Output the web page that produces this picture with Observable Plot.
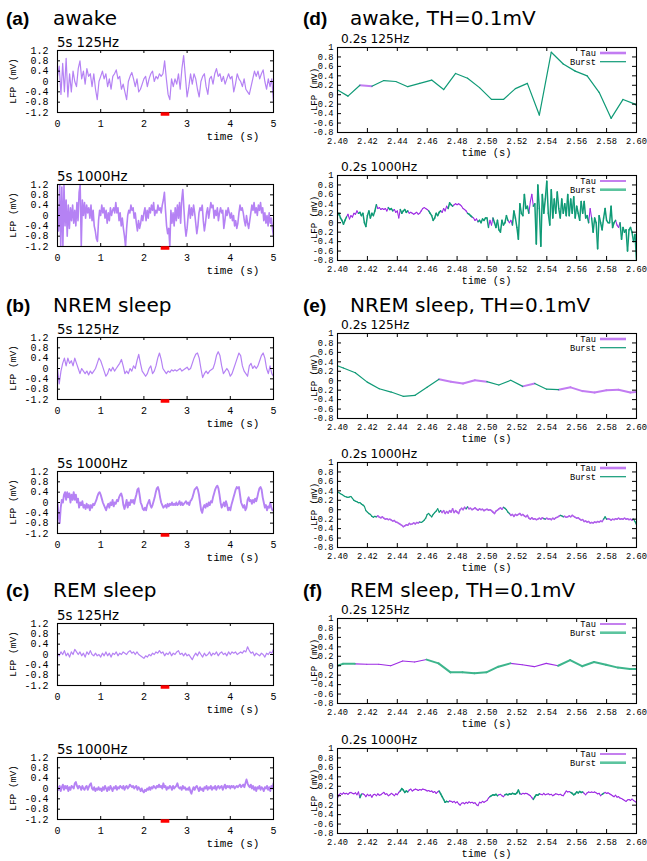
<!DOCTYPE html>
<html><head><meta charset="utf-8">
<script src="https://cdn.jsdelivr.net/npm/d3@7"></script>
<script src="https://cdn.jsdelivr.net/npm/@observablehq/plot@0.6"></script>
<style>
body{margin:0;background:#fff}
#root{position:relative;width:647px;height:861px;overflow:hidden;background:#fff}
.pn{position:absolute}
#ov{position:absolute;left:0;top:0;pointer-events:none}
</style></head><body><div id="root"></div>
<script>
// ---------- tick labels ----------
const leftXTicks = [0, 1, 2, 3, 4, 5];
const leftYTicks = [-1.2, -0.8, -0.4, 0, 0.4, 0.8, 1.2];
const rightXTicks = [2.40, 2.42, 2.44, 2.46, 2.48, 2.50, 2.52, 2.54, 2.56, 2.58, 2.60];
const rightYTicks = [-0.8, -0.6, -0.4, -0.2, 0, 0.2, 0.4, 0.6, 0.8, 1];
const zoomWindow = [2.4, 2.6];

// ---------- 5 s traces (mV), evenly sampled over 0..5 s ----------
const awake125 = [0.2,0.6,-0.5,0.7,-0.4,0.9,-0.6,0.3,-0.4,0.4, 0.0,-0.2,0.5,0.8,0.1,0.4,-0.1,0.5,0.2,0.3, -0.2,0.3,-0.3,-0.7,0.0,0.2,0.4,0.1,0.3,-0.2, 0.1,-0.3,0.2,0.3,0.45,0.1,0.2,-0.3,-0.1,-0.4, -0.7,0.0,0.2,0.35,0.1,-0.2,0.1,-0.4,-0.3,-0.1, 0.1,0.2,-0.2,0.1,0.3,0.4,0.0,0.2,0.1,0.3, 0.2,0.3,0.8,0.1,-0.5,-0.7,0.1,-0.2,0.1,-0.1, 0.3,-0.3,0.5,1.0,0.2,-0.6,-0.2,0.3,-0.1,0.3, 0.1,-0.3,-0.6,0.0,0.2,0.3,-0.2,-0.5,0.1,0.2, -0.1,0.3,0.5,0.2,0.3,0.0,0.2,-0.1,0.1,0.3, 0.1,0.2,-0.4,-0.1,0.3,0.1,0.0,-0.2,0.1,-0.3, -0.4,-0.5,-0.2,0.1,0.4,0.2,0.4,0.1,0.3,0.45, 0.0,-0.3,0.1,-0.2,0.1,-0.8];
const awake1000 = [0.3,-0.6,1.2,-1.2,1.1,-1.2,1.2,-0.4,0.6,-0.8, 0.4,-0.5,0.3,-0.2,0.4,-0.3,0.2,-0.4,0.5,-0.2, 0.9,1.2,-1.2,0.6,0.0,0.5,-0.1,0.4,0.1,0.3, -0.1,0.4,-0.2,0.2,-0.4,-0.6,-0.9,-1.0,-0.2,0.2, 0.0,0.4,0.1,0.3,-0.1,0.2,-0.3,0.1,-0.2,0.3, 0.0,0.2,0.3,0.1,0.5,0.1,0.3,-0.2,0.1,-0.4, -0.1,-0.5,-0.8,-1.2,-0.5,0.0,0.2,0.1,0.4,0.2, 0.3,-0.1,0.1,-0.3,-0.6,-0.2,-0.5,-0.3,0.0,-0.2, 0.1,0.3,-0.2,0.2,-0.1,0.3,0.1,0.4,0.2,0.5, 0.0,0.2,0.1,0.4,0.2,0.3,0.1,0.4,0.6,0.9, 0.2,-0.4,-0.7,-0.5,-1.2,0.2,-0.3,0.1,-0.4,0.3, -0.2,0.4,-0.1,0.5,-0.3,0.6,1.0,0.3,-0.4,-0.8, -0.5,0.0,0.4,-0.1,0.3,0.0,0.4,0.1,-0.3,-0.7, -0.4,0.1,0.3,0.2,0.4,-0.2,-0.6,-0.3,0.1,0.3, -0.1,0.2,0.5,0.3,0.4,-0.1,0.2,0.0,0.3,-0.2, 0.1,0.3,0.1,0.2,-0.5,-0.2,0.2,0.0,0.3,0.1, -0.1,0.1,-0.2,0.0,-0.4,-0.2,-0.5,-0.3,0.1,0.4, 0.2,0.3,0.1,-0.2,-0.4,0.0,-0.3,-0.5,-0.2,0.1, 0.4,0.2,0.5,0.1,0.3,0.0,0.4,0.2,0.5,0.1, 0.3,-0.2,0.1,-0.3,0.0,-0.4,0.1,-0.3,-0.1,-0.5, -0.8];
const nrem125 = [0.0,-0.6,-0.1,0.2,0.4,0.1,0.4,0.2,0.3,0.1, 0.4,0.2,0.0,-0.2,0.0,-0.1,-0.2,-0.1,-0.25,-0.1, -0.2,-0.1,0.0,0.2,0.4,0.3,0.1,-0.1,-0.3,-0.2, 0.0,-0.1,0.05,-0.1,0.0,0.1,0.2,0.35,0.1,-0.2, -0.1,-0.2,0.0,-0.1,0.1,0.0,0.3,0.55,0.2,-0.1, -0.2,-0.3,-0.2,0.0,0.1,-0.2,-0.1,0.1,0.4,0.6, 0.35,0.0,-0.1,-0.2,-0.1,-0.15,-0.05,-0.1,-0.05,-0.1, -0.05,0.0,-0.1,-0.05,0.0,0.05,-0.05,0.0,0.2,0.4, 0.55,0.6,0.4,0.0,-0.35,-0.2,-0.1,-0.2,-0.1,-0.05, 0.0,0.2,0.5,0.65,0.5,0.1,-0.2,-0.1,0.0,-0.1, -0.3,-0.2,0.0,0.2,0.4,0.6,0.5,0.1,-0.1,-0.2, -0.3,0.1,0.2,0.0,0.1,0.0,0.1,0.3,0.5,0.6, 0.4,0.0,-0.2,0.1,-0.2,-0.3];
const nrem1000 = [0.0,-0.5,-0.8,-0.2,0.1,0.0,0.3,0.4,0.1,0.4, 0.2,0.35,0.0,0.3,0.1,0.4,0.1,0.3,0.0,0.15, -0.2,0.0,-0.1,0.05,-0.2,-0.1,-0.25,-0.05,-0.2,-0.1, -0.3,-0.1,-0.2,-0.05,-0.1,0.0,0.1,0.25,0.35,0.4, 0.3,0.15,0.0,-0.1,-0.2,-0.3,-0.15,-0.05,-0.2,0.0, -0.1,0.1,-0.15,0.0,-0.05,0.1,0.05,0.2,0.3,0.35, 0.2,-0.1,-0.25,-0.1,0.1,-0.2,0.0,-0.1,0.1,0.0, 0.1,-0.05,0.15,0.3,0.5,0.55,0.3,0.0,-0.1,-0.25, -0.3,-0.2,-0.3,-0.1,0.0,0.1,-0.1,-0.2,-0.1,0.05, 0.2,0.4,0.55,0.6,0.45,0.2,0.0,-0.1,-0.2,-0.15, -0.1,-0.2,-0.05,-0.15,-0.05,-0.1,0.0,-0.1,-0.05,-0.1, 0.0,-0.1,-0.05,0.05,-0.1,0.0,-0.1,-0.05,0.0,0.05, -0.05,0.0,-0.1,0.05,0.1,0.2,0.35,0.5,0.55,0.6, 0.5,0.3,0.0,-0.3,-0.4,-0.2,-0.1,-0.2,-0.05,-0.15, 0.0,-0.1,0.05,0.0,0.2,0.35,0.5,0.6,0.65,0.55, 0.3,0.0,-0.2,-0.1,0.0,-0.15,0.05,-0.1,-0.3,-0.2, -0.3,-0.1,0.05,0.2,0.35,0.5,0.6,0.55,0.6,0.3, 0.0,-0.1,-0.2,-0.1,-0.3,-0.2,0.1,0.2,0.05,0.1, -0.05,0.1,0.0,0.15,0.05,0.2,0.4,0.55,0.6,0.5, 0.2,0.0,-0.2,-0.1,-0.3,-0.15,-0.2,0.0,-0.2,-0.3, -0.3];
const rem125 = [0.05,-0.05,0.1,0.0,0.15,-0.05,0.05,-0.1,0.1,0.0, 0.2,0.1,0.0,0.1,-0.05,0.05,-0.1,0.1,0.0,0.15, 0.0,-0.05,0.05,-0.05,0.0,-0.1,0.05,-0.05,0.1,-0.05, 0.05,-0.1,0.05,0.0,0.1,-0.05,0.05,0.0,0.1,0.05, 0.0,0.1,0.15,0.05,0.1,0.0,0.1,0.0,-0.05,-0.1, -0.15,-0.05,-0.1,0.0,-0.05,0.05,0.0,0.1,0.05,0.15, 0.05,0.1,-0.05,0.05,0.0,0.1,-0.05,0.05,0.0,0.1, 0.15,0.0,0.05,-0.05,0.05,-0.05,0.0,-0.1,-0.2,-0.05, 0.05,-0.05,0.1,0.0,-0.1,0.05,-0.05,0.0,0.1,-0.05, 0.05,0.0,0.1,-0.05,0.05,0.1,0.0,0.05,-0.05,0.1, 0.0,0.1,0.05,0.1,0.0,0.05,0.1,0.05,0.15,0.1, 0.3,0.15,0.05,0.1,-0.05,0.05,0.0,-0.05,0.05,0.0, -0.1,0.05,0.0,0.1,0.05,0.2];
const rem1000 = [0.05,-0.05,0.1,-0.1,0.05,0.15,-0.05,0.1,0.0,0.1, -0.1,0.05,-0.05,0.1,0.05,0.0,0.2,0.25,0.1,0.0, 0.1,0.05,-0.05,0.1,0.0,-0.05,0.05,0.1,-0.05,0.05, 0.15,0.2,0.0,-0.05,0.05,-0.1,0.0,-0.05,0.05,-0.05, 0.0,-0.1,0.05,-0.05,0.1,0.0,-0.1,0.05,-0.05,0.1, 0.0,-0.1,0.05,0.0,0.1,-0.05,0.05,0.0,0.1,0.05, 0.0,0.1,-0.05,0.05,0.1,0.0,0.05,0.15,0.1,0.05, 0.1,0.0,0.05,0.1,-0.05,0.05,0.0,-0.1,0.0,-0.1, -0.15,-0.05,-0.1,0.0,-0.05,0.05,-0.05,0.05,0.0,0.1, 0.05,0.0,0.1,0.05,0.15,0.05,0.1,0.0,0.2,0.05, 0.1,-0.05,0.05,0.0,0.1,0.05,-0.05,0.1,0.0,0.05, 0.1,0.2,0.05,0.0,0.05,-0.05,0.1,0.0,0.05,-0.05, 0.0,-0.05,0.05,-0.1,-0.2,-0.05,0.05,-0.05,0.05,0.1, 0.0,-0.1,0.05,-0.05,0.0,-0.1,0.05,0.0,0.1,-0.05, 0.05,0.0,0.1,-0.05,0.05,0.0,0.1,-0.05,0.05,0.1, 0.0,0.05,0.1,-0.05,0.05,0.15,0.0,0.1,0.05,0.1, 0.0,0.1,0.05,0.1,0.0,0.05,0.1,0.05,0.1,0.15, 0.05,0.1,0.15,0.05,0.2,0.35,0.2,0.1,0.05,0.15, 0.0,0.1,-0.05,0.05,-0.1,0.05,0.0,0.1,-0.05,0.05, 0.0,-0.1,0.05,0.0,0.1,-0.05,0.05,-0.1,0.1,0.0, 0.2];

// ---------- 0.2 s zooms (mV) ----------
// 125 Hz: first sample time and 8 ms step; 1000 Hz: from 2.400 s, 1 ms step
const awakeZ125 = [0.12,-0.03,0.2,0.18,0.3,0.28,0.17,0.24,0.31,0.11,0.45,0.35,0.15,-0.1,-0.1,0.13,0.24,-0.43,0.9,0.65,0.5,0.4,0.05,-0.5,-0.1,-0.2,-0.45];
const awakeZ125Start = 2.399;
const nremZ125 = [0.36,0.27,0.17,-0.03,-0.17,-0.24,-0.33,-0.31,-0.14,0.03,-0.02,-0.06,0.01,-0.02,-0.09,0.01,-0.12,-0.06,-0.18,-0.19,-0.14,-0.22,-0.25,-0.2,-0.19,-0.25,-0.23];
const nremZ125Start = 2.3959;
const remZ125 = [-0.05,0.04,0.04,0.03,0.03,0.0,0.1,0.08,0.13,0.05,-0.14,-0.14,-0.16,-0.14,-0.02,0.05,0.02,-0.02,0.05,0.0,0.12,-0.01,0.08,0.02,-0.04,-0.07,-0.07];
const remZ125Start = 2.3956;

const awakeZ1000 = [0.15,0.2,0.1,0.05,-0.03,0.05,0.12,0.18,0.08,0.15, 0.12,0.2,0.18,0.25,0.2,0.22,0.15,0.2,0.0,-0.08, 0.15,0.25,0.1,0.2,0.15,0.25,0.38,0.3,0.32,0.28, 0.3,0.28,0.3,0.25,0.32,0.28,0.3,0.25,0.28,0.22, 0.25,0.1,0.28,0.2,0.25,0.28,0.22,0.25,0.2,0.22, 0.2,0.18,0.2,0.22,0.18,0.2,0.25,0.3,0.32,0.3, 0.28,0.25,0.2,0.15,0.05,0.1,0.2,0.15,0.22,0.25, 0.22,0.3,0.25,0.35,0.3,0.42,0.38,0.35,0.38,0.4, 0.38,0.4,0.38,0.35,0.3,0.28,0.25,0.2,0.18,0.15, 0.12,0.1,0.05,0.08,0.02,0.05,0.0,0.08,0.05,0.1, 0.1,-0.1,0.05,-0.05,0.1,0.0,-0.1,0.05,-0.15,-0.2, 0.05,-0.05,0.0,0.15,0.05,0.0,0.05,-0.05,0.25,0.1, -0.1,-0.35,0.4,0.2,0.15,0.6,0.3,0.35,0.2,0.45, 0.6,0.35,0.4,-0.45,0.8,0.3,-0.5,0.6,0.2,0.5, 0.88,0.2,-0.05,0.7,0.1,0.5,0.2,0.65,0.3,0.1, 0.5,0.2,0.4,0.15,0.6,0.15,0.5,0.2,0.55,0.1, 0.35,0.2,0.05,0.45,0.2,0.45,0.1,0.15,0.0,0.3, 0.1,-0.2,0.1,0.0,-0.55,0.15,0.0,-0.15,0.1,0.3, 0.05,0.0,0.0,0.35,-0.1,0.0,0.05,-0.05,-0.1,0.0, -0.35,-0.1,-0.2,-0.15,-0.6,-0.15,-0.1,-0.2,-0.4,-0.25, -0.8];
const nremZ1000 = [0.38,0.36,0.34,0.32,0.3,0.28,0.27,0.26,0.27,0.28, 0.24,0.2,0.18,0.17,0.15,0.15,0.12,0.1,0.07,-0.02, -0.05,-0.08,-0.1,-0.14,-0.16,-0.14,-0.15,-0.13,-0.16,-0.17, -0.15,-0.18,-0.2,-0.19,-0.21,-0.2,-0.22,-0.24,-0.23,-0.26, -0.27,-0.29,-0.31,-0.33,-0.36,-0.34,-0.32,-0.33,-0.29,-0.31, -0.3,-0.28,-0.3,-0.27,-0.28,-0.26,-0.27,-0.25,-0.22,-0.18, -0.1,-0.08,-0.12,-0.15,-0.1,-0.06,-0.03,0.02,-0.05,-0.02, -0.06,-0.02,-0.08,-0.04,-0.07,-0.02,-0.05,0.02,-0.06,-0.02, -0.05,-0.08,0.0,0.03,0.0,0.05,0.02,0.06,0.02,0.03, 0.0,0.02,0.04,0.01,-0.01,0.02,0.0,0.01,-0.02,0.0, 0.01,-0.01,0.0,-0.02,-0.05,-0.08,-0.03,-0.01,0.02,0.04, 0.01,0.05,0.03,0.0,-0.05,-0.08,-0.12,-0.1,-0.14,-0.1, -0.12,-0.1,-0.08,-0.12,-0.1,-0.13,-0.15,-0.12,-0.18,-0.2, -0.17,-0.2,-0.19,-0.21,-0.2,-0.18,-0.2,-0.17,-0.19,-0.2, -0.18,-0.2,-0.19,-0.21,-0.18,-0.2,-0.17,-0.16,-0.14,-0.12, -0.13,-0.15,-0.14,-0.16,-0.15,-0.13,-0.15,-0.12,-0.14,-0.16, -0.18,-0.17,-0.2,-0.22,-0.21,-0.25,-0.24,-0.26,-0.25,-0.28, -0.27,-0.28,-0.26,-0.27,-0.25,-0.26,-0.24,-0.25,-0.2,-0.15, -0.2,-0.19,-0.2,-0.22,-0.2,-0.21,-0.19,-0.2,-0.18,-0.2, -0.19,-0.2,-0.18,-0.2,-0.19,-0.21,-0.2,-0.22,-0.2,-0.25, -0.32];
const remZ1000 = [-0.05,0.02,0.05,0.03,0.06,0.04,0.05,0.03,0.06,0.07, 0.05,0.04,0.06,0.02,0.08,-0.04,0.03,0.04,0.02,-0.02, 0.03,0.0,0.02,-0.03,0.02,0.03,0.0,0.04,0.01,0.02, 0.05,0.07,0.03,0.04,0.0,0.02,0.05,0.03,0.0,0.04, 0.02,0.07,0.1,0.15,0.12,0.07,0.1,0.08,0.12,0.14, 0.1,0.12,0.14,0.13,0.11,0.13,0.12,0.14,0.13,0.12, 0.1,0.11,0.09,0.1,0.07,0.09,0.05,0.08,0.1,0.04, -0.02,-0.08,-0.14,-0.12,-0.13,-0.11,-0.12,-0.14,-0.12,-0.15, -0.13,-0.17,-0.2,-0.16,-0.15,-0.17,-0.14,-0.16,-0.13,-0.15, -0.14,-0.16,-0.15,-0.19,-0.21,-0.14,-0.15,-0.12,-0.14,-0.12, -0.1,-0.05,-0.02,0.0,0.02,0.01,0.03,0.0,0.02,0.03, 0.0,-0.02,0.02,0.03,0.02,0.04,0.03,0.05,0.04,0.03, 0.06,0.12,0.04,0.03,0.05,0.04,0.05,0.04,0.02,0.0, -0.04,-0.08,-0.02,0.02,0.01,0.04,0.03,0.02,0.05,0.02, 0.03,0.04,0.02,0.03,0.0,0.02,0.04,0.03,0.02,0.03, 0.01,0.0,0.05,0.1,0.08,0.09,0.07,0.05,0.02,0.04, 0.08,0.06,0.09,0.07,0.08,0.05,0.02,0.06,0.08,0.07, 0.08,0.07,0.08,0.06,0.04,0.05,0.0,0.03,0.05,0.07, 0.05,0.06,0.04,0.02,0.0,-0.02,0.01,-0.03,-0.02,-0.05, -0.06,-0.08,-0.1,-0.12,-0.09,-0.08,-0.1,-0.07,-0.1,-0.12, -0.15];

// Tau intervals (s); the rest of each trace is Burst
const awakeZ125Tau = [[2.414, 2.424]];
const awakeZ1000Tau = [[2.406,2.4135],[2.426,2.4335],[2.437,2.442],[2.447,2.4605],[2.469,2.474],[2.477,2.487],[2.4905,2.494],[2.501,2.504],[2.514,2.517],[2.528,2.531],[2.568,2.570],[2.586,2.589]];
const nremZ125Tau = [[2.4679,2.4999],[2.5239,2.5319],[2.5479,2.61]];
const nremZ1000Tau = [[2.426,2.455],[2.4685,2.4855],[2.4875,2.5105],[2.5155,2.5375],[2.5395,2.549],[2.551,2.578],[2.5805,2.598]];
const remZ125Tau = [[2.4116,2.4596],[2.5156,2.5476]];
const remZ1000Tau = [[2.400,2.415],[2.4165,2.442],[2.4475,2.468],[2.474,2.502],[2.507,2.512],[2.522,2.531],[2.5346,2.5558],[2.5636,2.577],[2.578,2.600]];

// ---------- rendering ----------
const root = document.getElementById("root");
const MONO = "'Liberation Mono','DejaVu Sans Mono',monospace";
const TRACE = "#b582f4";
function place(svg, left, top) {
  const d = document.createElement("div");
  d.className = "pn"; d.style.left = left + "px"; d.style.top = top + "px";
  d.appendChild(svg); root.appendChild(d);
}
const fmtL = d => d === 0 ? "0" : d.toFixed(1);
const fmtR = d => d === 0 ? "0" : d === 1 ? "1" : d.toFixed(1);

function leftPanel(values, frameTop, lw) {
  const n = values.length, fh = 62, mt = 4, mb = 24, ml = 57, mr = 17, W = 290, fw = W - ml - mr;
  const svg = Plot.plot({
    width: W, height: mt + fh + mb, marginLeft: ml, marginRight: mr, marginTop: mt, marginBottom: mb,
    style: {fontFamily: MONO, fontSize: "10px", color: "#000", background: "transparent", overflow: "visible"},
    x: {domain: [0, 5], ticks: leftXTicks, tickSize: 0, tickPadding: 7, tickFormat: d => String(d), label: null},
    y: {domain: [-1.2, 1.2], ticks: leftYTicks, tickSize: 0, tickPadding: 9, tickFormat: fmtL, label: null},
    marks: [
      Plot.line(values, {x: (d, i) => i * 5 / (n - 1), y: d => d, stroke: TRACE, strokeWidth: lw, strokeLinejoin: "round", clip: true}),
      Plot.tickX(leftXTicks.slice(1, -1), {x: d => d, insetTop: fh - 3, stroke: "#000"}),
      Plot.tickX(leftXTicks.slice(1, -1), {x: d => d, insetBottom: fh - 3, stroke: "#000"}),
      Plot.tickY(leftYTicks.slice(1, -1), {y: d => d, insetRight: fw - 3, stroke: "#000"}),
      Plot.tickY(leftYTicks.slice(1, -1), {y: d => d, insetLeft: fw - 3, stroke: "#000"}),
      Plot.frame({stroke: "#000", strokeWidth: 1.1}),
      Plot.ruleY([-1.2], {y: d => d, x1: () => zoomWindow[0], x2: () => zoomWindow[1], stroke: "#ff0000", strokeWidth: 3.5, dy: 1.5})
    ]
  });
  place(svg, 0, frameTop - mt);
}

function rightPanel(values, t0, dt, tauInts, st, frameTop) {
  const fh = 85, mt = 4, mb = 20, ml = 37, mr = 11, W = 347, fw = W - ml - mr;
  const segs = [];
  for (let i = 0; i < values.length - 1; i++) {
    const a = t0 + i * dt, b = t0 + (i + 1) * dt, m = (a + b) / 2;
    segs.push({x1: a, y1: values[i], x2: b, y2: values[i + 1], tau: tauInts.some(([p, q]) => m >= p && m <= q)});
  }
  const lk = (data, color, w) => Plot.link(data, {x1: "x1", y1: "y1", x2: "x2", y2: "y2", stroke: color, strokeWidth: w, strokeLinecap: "round", strokeLinejoin: "round", clip: true});
  const svg = Plot.plot({
    width: W, height: mt + fh + mb, marginLeft: ml, marginRight: mr, marginTop: mt, marginBottom: mb,
    style: {fontFamily: MONO, fontSize: "8.7px", color: "#000", background: "transparent", overflow: "visible"},
    x: {domain: [2.4, 2.6], ticks: rightXTicks, tickSize: 0, tickPadding: 5, tickFormat: d => d.toFixed(2), label: null},
    y: {domain: [-0.8, 1], ticks: rightYTicks, tickSize: 0, tickPadding: 4, tickFormat: fmtR, label: null},
    marks: [
      lk(segs.filter(s => s.tau), st.tau, st.tauW),
      lk(segs.filter(s => !s.tau), st.burst, st.burstW),
      Plot.tickX(rightXTicks.slice(1, -1), {x: d => d, insetTop: fh - 4, stroke: "#000"}),
      Plot.tickX(rightXTicks.slice(1, -1), {x: d => d, insetBottom: fh - 4, stroke: "#000"}),
      Plot.tickY(rightYTicks.slice(1, -1), {y: d => d, insetRight: fw - 4, stroke: "#000"}),
      Plot.tickY(rightYTicks.slice(1, -1), {y: d => d, insetLeft: fw - 4, stroke: "#000"}),
      Plot.frame({stroke: "#000", strokeWidth: 1.1})
    ]
  });
  const fr = W - mr, ft = mt;
  const g = d3.select(svg).append("g").attr("font-family", MONO).attr("font-size", 8.7).attr("fill", "#000");
  g.append("text").attr("x", fr - 40).attr("y", ft + 9).attr("text-anchor", "end").text("Tau");
  g.append("line").attr("x1", fr - 36).attr("x2", fr - 10).attr("y1", ft + 6).attr("y2", ft + 6).attr("stroke", st.tauLeg || st.tau).attr("stroke-width", st.tauLW);
  g.append("text").attr("x", fr - 40).attr("y", ft + 17.5).attr("text-anchor", "end").text("Burst");
  g.append("line").attr("x1", fr - 36).attr("x2", fr - 10).attr("y1", ft + 14.7).attr("y2", ft + 14.7).attr("stroke", st.burstLeg || st.burst).attr("stroke-width", st.burstLW);
  place(svg, 647 - W, frameTop - mt);
}

const PURPLE = "#9d2be3", LPURPLE = "#c27cf2", GREEN = "#0f9a76", LGREEN = "#3db58c", LEGGREEN = "#5cc49e";
const thickTau = {tau: LPURPLE, tauW: 2, tauLW: 2.6, burst: GREEN, burstW: 1.2, burstLW: 1.2};
const thickBurst = {tau: PURPLE, tauW: 1.1, tauLW: 1.2, burst: GREEN, burstW: 1.5, burstLW: 2.6, burstLeg: LEGGREEN};

leftPanel(awake125, 50, 1.2);
leftPanel(awake1000, 184, 1.6);
leftPanel(nrem125, 337, 1.2);
leftPanel(nrem1000, 471, 1.9);
leftPanel(rem125, 623, 1.2);
leftPanel(rem1000, 757, 1.9);

rightPanel(awakeZ125, awakeZ125Start, 0.008, awakeZ125Tau, thickTau, 47);
rightPanel(awakeZ1000, 2.4, 0.001, awakeZ1000Tau, thickBurst, 175);
rightPanel(nremZ125, nremZ125Start, 0.008, nremZ125Tau, thickTau, 333);
rightPanel(nremZ1000, 2.4, 0.001, nremZ1000Tau, {tau: "#b060ea", tauW: 1.5, tauLW: 2.6, tauLeg: LPURPLE, burst: GREEN, burstW: 1.2, burstLW: 1.2}, 462);
rightPanel(remZ125, remZ125Start, 0.008, remZ125Tau, {tau: PURPLE, tauW: 1.1, tauLW: 1.2, burst: LGREEN, burstW: 2, burstLW: 2.6, burstLeg: LEGGREEN}, 618);
rightPanel(remZ1000, 2.4, 0.001, remZ1000Tau, thickBurst, 748);

// ---------- text overlay ----------
const ov = d3.select(root).append("svg").attr("id", "ov").attr("width", 647).attr("height", 861);
function txt(s, x, y, font, size, weight, anchor, rot) {
  const t = ov.append("text").attr("x", x).attr("y", y).attr("font-family", font).attr("font-size", size)
    .attr("font-weight", weight || "normal").attr("text-anchor", anchor || "start").attr("fill", "#000").text(s);
  if (rot) t.attr("transform", `rotate(${rot},${x},${y})`);
}
const SANS = "'DejaVu Sans',Verdana,sans-serif", BOLD = "'Liberation Sans',Arial,sans-serif";
const sections = [
  {letter: "(a)", name: "awake", y: 25, ly: 50, ry: 47},
  {letter: "(b)", name: "NREM sleep", y: 312, ly: 337, ry: 333},
  {letter: "(c)", name: "REM sleep", y: 597, ly: 623, ry: 618}
];
const rightLetters = ["(d)", "(e)", "(f)"];
const lowerLeft = [184, 471, 757], lowerRight = [175, 462, 748];
sections.forEach((s, k) => {
  txt(s.letter, 6, s.y, BOLD, 19, "bold");
  txt(s.name, 53, s.y, SANS, 20);
  txt(rightLetters[k], 303, s.y, BOLD, 19, "bold");
  txt(s.name + ", TH=0.1mV", 350, s.y, SANS, 20);
  [s.ly, lowerLeft[k]].forEach((ft, j) => {
    txt(j === 0 ? "5s 125Hz" : "5s 1000Hz", 57, ft - 3, SANS, 13.3);
    txt("LFP (mV)", 15.5, ft + 31, MONO, 9.5, "normal", "middle", -90);
    txt("time (s)", 233, ft + 62 + 28, MONO, 11, "normal", "middle");
  });
  [s.ry, lowerRight[k]].forEach((ft, j) => {
    txt(j === 0 ? "0.2s 125Hz" : "0.2s 1000Hz", 341, ft - 4, SANS, 12.2);
    txt("LFP (mV)", 317, ft + 42.5, MONO, 9, "normal", "middle", -90);
    txt("time (s)", 486.5, ft + 85 + 24, MONO, 10.4, "normal", "middle");
  });
});
</script></body></html>
